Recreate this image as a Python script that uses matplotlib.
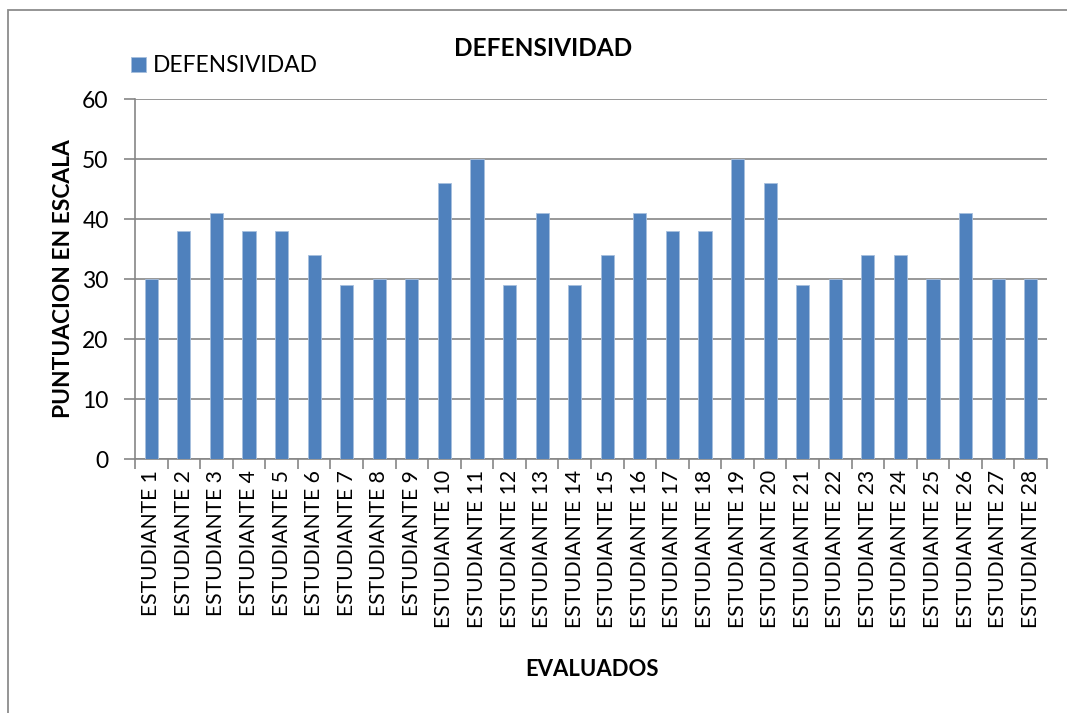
import matplotlib
matplotlib.use("Agg")
import matplotlib.pyplot as plt
from matplotlib.patches import Rectangle

categories = [f"ESTUDIANTE {i}" for i in range(1, 29)]
values = [30, 38, 41, 38, 38, 34, 29, 30, 30, 46, 50, 29, 41, 29,
          34, 41, 38, 38, 50, 46, 29, 30, 34, 34, 30, 41, 30, 30]
yticks = [0, 10, 20, 30, 40, 50, 60]
series_name = "DEFENSIVIDAD"
title = "DEFENSIVIDAD"
xlabel = "EVALUADOS"
ylabel = "PUNTUACION EN ESCALA"

plt.rcParams['font.family'] = ['Lato', 'DejaVu Sans']

W, H = 1067, 713
fig = plt.figure(figsize=(W / 100, H / 100), dpi=100)
fig.patch.set_facecolor('white')

# outer chart border
border = Rectangle((8 / W, -0.1), 1.2, 1 - 10 / H + 0.1, transform=fig.transFigure,
                   fill=False, edgecolor='#8c8c8c', linewidth=1.3)
fig.patches.append(border)

ax = fig.add_axes([135 / W, 1 - 459 / H, (1047 - 135) / W, (459 - 99) / H])
x = list(range(len(categories)))
ax.bar(x, values, width=0.4, color='#4F81BD', edgecolor='#A7BFDE', linewidth=0.6,
       label=series_name, zorder=3)
ax.set_xlim(-0.5, len(categories) - 0.5)
ax.set_ylim(0, 60)
ax.set_yticks(yticks)
ax.set_yticklabels([str(v) for v in yticks], fontsize=16.5)
ax.set_xticks(x)
ax.set_xticklabels(categories, rotation=90, fontsize=15.2)
ax.set_xticks([i - 0.5 for i in range(len(categories) + 1)], minor=True)
ax.tick_params(axis='x', which='major', length=0, pad=8)
ax.tick_params(axis='x', which='minor', length=7, color='#868686', width=1.2)
ax.tick_params(axis='y', length=8, color='#868686', width=1.2, pad=11)
ax.grid(axis='y', color='#868686', linewidth=1.2, zorder=0)
for s in ['top', 'right']:
    ax.spines[s].set_visible(False)
for s in ['left', 'bottom']:
    ax.spines[s].set_color('#868686')
    ax.spines[s].set_linewidth(1.2)

ax.set_ylabel(ylabel, fontsize=16.4, fontweight='bold')
ax.yaxis.set_label_coords(-0.067, 0.5)
fig.text(592 / W, 1 - 670 / H, xlabel, fontsize=15.9, fontweight='bold', ha='center', va='center')
fig.text(543 / W, 1 - 48 / H, title, fontsize=17.6, fontweight='bold', ha='center', va='center')

leg = fig.legend(loc='center left', bbox_to_anchor=(131 / W, 1 - 66 / H), frameon=False,
                 fontsize=16.4, handlelength=0.65, handleheight=0.65, handletextpad=0.3,
                 borderaxespad=0, borderpad=0)

fig.savefig("out.png", dpi=100)
